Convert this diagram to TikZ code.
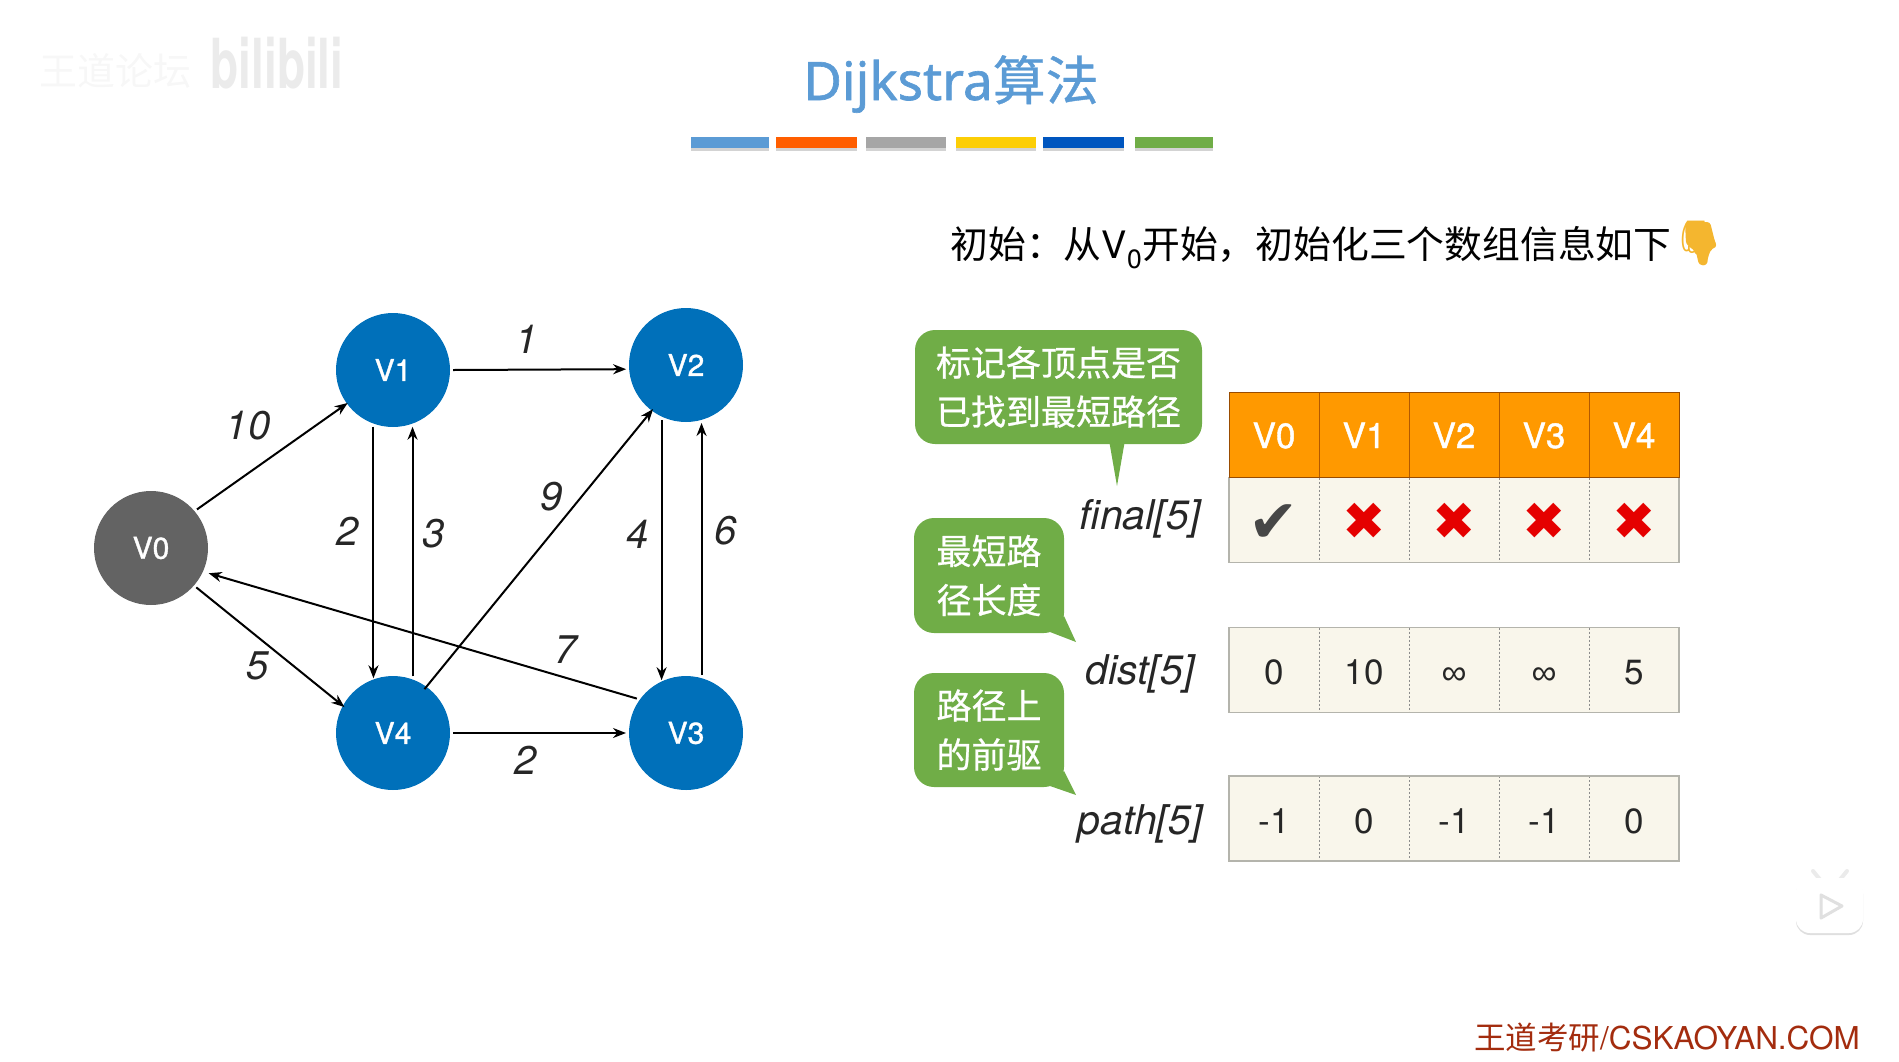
\documentclass[tikz,border=0pt]{standalone}
\usepackage{xcolor, amsmath, amssymb}
\usepackage{fontspec}
\setmainfont{TeX Gyre Heros}
\newfontfamily\cjk{Noto Sans CJK SC}
\newfontfamily\cjkheavy[FakeBold=0.7]{Noto Sans CJK SC}
\newfontfamily\titlefont[FakeBold=1.2]{Noto Sans}
\newfontfamily\headfont[FakeBold=1.2]{TeX Gyre Heros}
\newfontfamily\emojifont{Noto Emoji}
\newfontfamily\marksfont{DejaVu Sans}
\newfontfamily\numfont{Liberation Sans}
\usetikzlibrary{arrows.meta,shadows}
\newcommand{\fsize}[1]{\fontsize{#1}{#1}\selectfont}
\definecolor{vblue}{HTML}{0070BA}
\definecolor{vgray}{HTML}{636363}
\definecolor{headorange}{HTML}{FF9900}
\definecolor{cellcream}{HTML}{F9F6EB}
\definecolor{cellline}{HTML}{B4B4AC}
\definecolor{notegreen}{HTML}{70AD47}
\definecolor{titleblue}{HTML}{5B9BD5}
\definecolor{sitered}{HTML}{A32C0E}
\definecolor{handyellow}{HTML}{F4B62F}

\begin{document}
\begin{tikzpicture}[x=1pt,y=-1pt,>={Stealth[length=13pt,width=10pt]},
  vertex/.style={circle,fill=vblue,text=white,minimum size=114pt,inner sep=0pt,outer sep=3pt,font=\headfont\fsize{30}},
  link/.style={->,every edge/.style={draw,line width=2pt,black}},
  weight/.style={inner sep=0pt,font=\fsize{40}\itshape,text=black!85},
  rowname/.style={inner sep=0pt,font=\fsize{41}\itshape,text=black!85},
  colorbar/.style={minimum height=11pt,inner sep=0pt,outer sep=0pt,drop shadow={shadow xshift=0pt,shadow yshift=-3pt,opacity=.35}},
  headcell/.style={fill=headorange,text=white,minimum width=90pt,minimum height=85pt,inner sep=0pt,outer sep=0pt,text height=27pt,text depth=0pt,font=\headfont\fsize{35}},
  cell/.style={fill=cellcream,text=black!85,minimum width=90pt,minimum height=85pt,inner sep=0pt,outer sep=0pt,font=\fsize{35}},
  numcell/.style={cell,text height=29.6pt,text depth=0pt},
  cellframe/.style={draw=cellline,line width=1.6pt},
  cellsep/.style={every edge/.style={draw=black!45,line width=.7pt,dash pattern=on 2pt off 2pt}},
  headsep/.style={every edge/.style={draw=orange!70!black,line width=.6pt}},
  note/.style={fill=notegreen,text=white,rounded corners=20pt,inner sep=0pt,align=center,font=\cjkheavy\fontsize{35}{49}\selectfont},
  nomark/.style={font=\marksfont\fsize{52},text=red!90!black,text height=38pt,text depth=0pt},
]
\useasboundingbox(0,0)rectangle(1899,1061);
% watermark
\node[text=black!3] at(115,71)(wmark){\cjk\fsize{38}王道论坛};
\node[text=black!8] at(277,63)(bili){\scalebox{1}[1.5]{\fsize{46}\bfseries bilibili}};
% title
\node[text=titleblue] at(951,84)(title){\titlefont\fsize{53}Dijkstra\cjkheavy 算法};
\node[colorbar,fill=titleblue,minimum width=78pt] at(730,142)(bar1){};
\node[colorbar,fill=orange!60!red!90!yellow,minimum width=81pt] at(816,142)(bar2){};
\node[colorbar,fill=black!35,minimum width=80pt] at(906,142)(bar3){};
\node[colorbar,fill=yellow!75!orange!95!red,minimum width=80pt] at(996,142)(bar4){};
\node[colorbar,fill=blue!55!cyan!75!black,minimum width=81pt] at(1083,142)(bar5){};
\node[colorbar,fill=notegreen,minimum width=78pt] at(1174,142)(bar6){};
\node at(1311,248)(intro){\cjk\fsize{37.8}初始\char"FF1A\relax 从{\rmfamily V\textsubscript{0}}开始\char"FF0C\relax 初始化三个数组信息如下};
\fill[handyellow,rounded corners=3pt](1685,222)--(1710,222)--(1716,246)--(1710,251)--(1706,265)--(1699,265)--(1696,252)--(1686,244)--cycle;
\node[text=handyellow] at(1699,243)(hand){\emojifont\fsize{44}👇};
% graph
\node[vertex,fill=vgray] at(151,548)(v0){V0};
\node[vertex] at(393,370)(v1){V1};
\node[vertex] at(686,365)(v2){V2};
\node[vertex] at(686,733)(v3){V3};
\node[vertex] at(393,733)(v4){V4};
\path[link](v0.40)edge[shorten >=-4pt](v1.216)
     (v1.0)edge(v2.184)
     (v1.251)edge[shorten >=-2pt](v4.109)
     (v4.71)edge(v1.289)
     (v4.54)edge[shorten <=-6pt,shorten >=-5pt](v2.233)
     (v2.246)edge[shorten >=-2pt](v3.114)
     (v3.75)edge(v2.285)
     (v3.145)edge[shorten >=3pt](v0.336)
     (v0.319)edge[shorten >=-5pt](v4.151)
     (v4.0)edge(v3.180);
\node[weight] at(248,426)(w01){10};
\node[weight] at(527,339)(w12){1};
\node[weight] at(348,531)(w14){2};
\node[weight] at(434,534)(w41){3};
\node[weight] at(552,497)(w42){9};
\node[weight] at(638,534)(w23){4};
\node[weight] at(726,531)(w32){6};
\node[weight] at(566,650)(w30){7};
\node[weight] at(258,666)(w04){5};
\node[weight] at(526,760)(w43){2};
% notes
\node[note,minimum width=287pt,minimum height=114pt] at(1058.5,387)(note1){标记各顶点是否\\已找到最短路径};
\node[note,minimum width=150pt,minimum height=115pt] at(989,575.5)(note2){最短路\\径长度};
\node[note,minimum width=150pt,minimum height=114pt] at(989,730)(note3){路径上\\的前驱};
\coordinate(tip1) at(1117,486);
\coordinate(tip2) at(1076,642);
\coordinate(tip3) at(1076,795);
\fill[notegreen](1109,440)--(tip1)--(1125,440)--cycle;
\fill[notegreen](1064,616)--(tip2)--(1050,632)--cycle;
\fill[notegreen](1064,771)--(tip3)--(1050,786)--cycle;
% arrays
\node[headcell] at(1274,434.5)(h0){V0};
\node[headcell] at(1364,434.5)(h1){V1};
\node[headcell] at(1454,434.5)(h2){V2};
\node[headcell] at(1544,434.5)(h3){V3};
\node[headcell] at(1634,434.5)(h4){V4};
\node[cell,text height=45pt,text depth=0pt] at(1274,520)(f0){\marksfont\fsize{60}\textcolor{black!72}{✔}};
\node[cell,nomark] at(1364,520)(f1){✖};
\node[cell,nomark] at(1454,520)(f2){✖};
\node[cell,nomark] at(1544,520)(f3){✖};
\node[cell,nomark] at(1634,520)(f4){✖};
\node[numcell] at(1274,670)(d0){0};
\node[numcell] at(1364,670)(d1){10};
\node[numcell] at(1454,670)(d2){\numfont ∞};
\node[numcell] at(1544,670)(d3){\numfont ∞};
\node[numcell] at(1634,670)(d4){5};
\node[numcell] at(1274,818.5)(p0){-1};
\node[numcell] at(1364,818.5)(p1){0};
\node[numcell] at(1454,818.5)(p2){-1};
\node[numcell] at(1544,818.5)(p3){-1};
\node[numcell] at(1634,818.5)(p4){0};
\path[cellsep](f0.north east)edge(f0.south east)(f1.north east)edge(f1.south east)(f2.north east)edge(f2.south east)(f3.north east)edge(f3.south east)
     (d0.north east)edge(d0.south east)(d1.north east)edge(d1.south east)(d2.north east)edge(d2.south east)(d3.north east)edge(d3.south east)
     (p0.north east)edge(p0.south east)(p1.north east)edge(p1.south east)(p2.north east)edge(p2.south east)(p3.north east)edge(p3.south east);
\path[headsep](h0.north east)edge(h0.south east)(h1.north east)edge(h1.south east)(h2.north east)edge(h2.south east)(h3.north east)edge(h3.south east);
\draw[cellframe](f0.north west)rectangle(f4.south east);
\draw[cellframe](d0.north west)rectangle(d4.south east);
\draw[cellframe](p0.north west)rectangle(p4.south east);
\draw[draw=orange!60!black,line width=.8pt](h0.north west)rectangle(h4.south east);
\node[rowname] at(1140,519)(fname){final[5]};
\node[rowname] at(1140,674)(dname){dist[5]};
\node[rowname] at(1140,824)(pname){path[5]};
% play icon
\draw[black!8,line width=4pt,line cap=round](1822,882)--(1813,871)(1838,882)--(1847,871);
\fill[white,rounded corners=14pt,drop shadow={shadow xshift=0pt,shadow yshift=-2pt,opacity=.25}](1796,878)rectangle(1863,933);
\draw[black!12,line width=3pt,line join=round,fill=white](1821,895)--(1842,906)--(1821,918)--cycle;
% footer
\node[text=sitered] at(1667,1038)(site){\fsize{31.5}{\cjk 王道考研}/CSKAOYAN.COM};
\end{tikzpicture}
\end{document}
